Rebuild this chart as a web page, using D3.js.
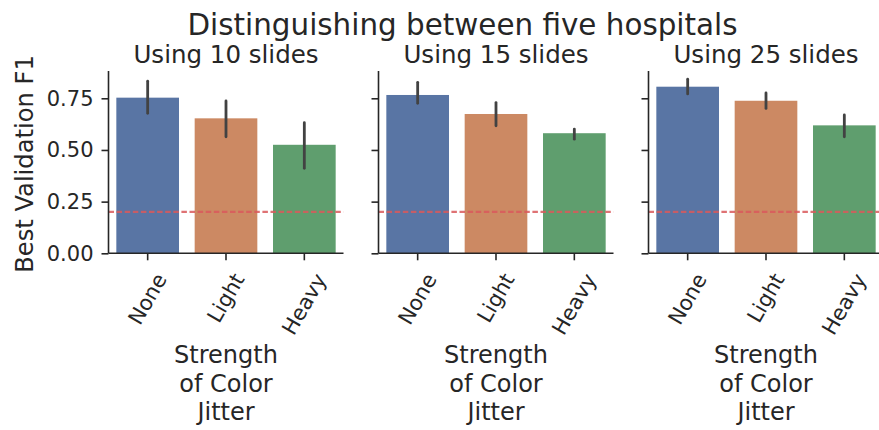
<!DOCTYPE html>
<html>
<head>
<meta charset="utf-8">
<script src="https://cdn.jsdelivr.net/npm/d3@7"></script>
<style>
  html, body { margin: 0; padding: 0; background: #fff; }
  svg { display: block; font-family: "DejaVu Sans", sans-serif; }
</style>
</head>
<body>
<svg id="chart" width="879" height="430"></svg>
<script>
// Mean best validation F1 per colour-jitter strength, with 95% CI bounds
const panels = ["Using 10 slides", "Using 15 slides", "Using 25 slides"];
const jitter = ["None", "Light", "Heavy"];
const meanF1 = [
  [0.753, 0.653, 0.525],
  [0.766, 0.674, 0.581],
  [0.806, 0.738, 0.619]
];
const lowF1 = [
  [0.677, 0.564, 0.411],
  [0.726, 0.617, 0.552],
  [0.771, 0.701, 0.564]
];
const highF1 = [
  [0.833, 0.737, 0.632],
  [0.827, 0.729, 0.601],
  [0.842, 0.776, 0.669]
];
const yTicks = [0.00, 0.25, 0.50, 0.75];
const chanceLevel = 0.2;   // five hospitals -> 1/5
const barColors = ["#5975a4", "#cc8963", "#5f9e6e"];

const svg = d3.select("#chart");
const ink = "#262626";

const panelW = 235;
const plotTop = 71, plotBottom = 253.3;
const lefts = panels.map((_, i) => 108.5 + i * 270);

const y = d3.scaleLinear().domain([0, 0.882]).range([plotBottom, plotTop]);

svg.append("text")
  .attr("x", 462.5).attr("y", 34.5)
  .attr("text-anchor", "middle")
  .attr("font-size", 29.4).attr("fill", ink)
  .text("Distinguishing between five hospitals");

panels.forEach((title, p) => {
  const g = svg.append("g").attr("transform", `translate(${lefts[p]},0)`);
  const x = d3.scaleBand().domain(jitter).range([0, panelW]).paddingInner(0.2).paddingOuter(0.1);

  // bars
  g.selectAll("rect.bar").data(jitter).join("rect")
    .attr("class", "bar")
    .attr("x", d => x(d))
    .attr("width", x.bandwidth())
    .attr("y", (d, i) => y(meanF1[p][i]))
    .attr("height", (d, i) => y(0) - y(meanF1[p][i]))
    .attr("fill", (d, i) => barColors[i]);

  // confidence intervals
  g.selectAll("line.err").data(jitter).join("line")
    .attr("class", "err")
    .attr("x1", d => x(d) + x.bandwidth() / 2)
    .attr("x2", d => x(d) + x.bandwidth() / 2)
    .attr("y1", (d, i) => y(lowF1[p][i]))
    .attr("y2", (d, i) => y(highF1[p][i]))
    .attr("stroke", "#424242").attr("stroke-width", 2.8)
    .attr("stroke-linecap", "round");

  // chance-level reference line
  g.append("line")
    .attr("x1", 0).attr("x2", panelW)
    .attr("y1", y(chanceLevel)).attr("y2", y(chanceLevel))
    .attr("stroke", "#d9595c").attr("stroke-opacity", 0.85)
    .attr("stroke-width", 2.2).attr("stroke-dasharray", "5.5,2.6");

  // y axis
  const yAxis = g.append("g").call(
    d3.axisLeft(y).tickValues(yTicks).tickSize(7).tickPadding(8)
      .tickFormat(p === 0 ? d3.format(".2f") : () => "")
  );
  yAxis.select(".domain").attr("d", `M0,${plotTop}V${plotBottom}`);

  // x axis
  const xAxis = g.append("g").attr("transform", `translate(0,${plotBottom})`)
    .call(d3.axisBottom(x).tickSize(7).tickFormat(""));
  xAxis.select(".domain").attr("d", `M0,0H${panelW}`);

  [yAxis, xAxis].forEach(a => {
    a.selectAll(".domain").attr("stroke", ink).attr("stroke-width", 1.6);
    a.selectAll(".tick line").attr("stroke", ink).attr("stroke-width", 1.6);
    a.selectAll("text").attr("fill", ink).attr("font-size", 21)
      .attr("font-family", "DejaVu Sans");
  });

  // rotated category labels, bounding box hung below the ticks
  const fs = 21, ang = 60 * Math.PI / 180;
  jitter.forEach(cat => {
    const t = g.append("text")
      .attr("font-size", fs).attr("fill", ink)
      .attr("text-anchor", "middle").attr("dominant-baseline", "central")
      .text(cat);
    const w = t.node().getComputedTextLength();
    const h = fs * 1.164;
    const boxH = w * Math.sin(ang) + h * Math.cos(ang);
    const cx = x(cat) + x.bandwidth() / 2;
    const cy = plotBottom + 16 + boxH / 2;
    t.attr("transform", `translate(${cx},${cy}) rotate(-60)`);
  });

  // panel title
  g.append("text")
    .attr("x", panelW / 2).attr("y", 62.7)
    .attr("text-anchor", "middle")
    .attr("font-size", 24.5).attr("fill", ink)
    .text(title);

  // x axis label on three lines
  const xl = g.append("text")
    .attr("text-anchor", "middle")
    .attr("font-size", 24).attr("fill", ink);
  ["Strength", "of Color", "Jitter"].forEach((line, i) => {
    xl.append("tspan").attr("x", panelW / 2).attr("y", 363 + i * 28.6).text(line);
  });
});

svg.append("text")
  .attr("transform", `translate(33,164) rotate(-90)`)
  .attr("text-anchor", "middle")
  .attr("font-size", 24.2).attr("fill", ink)
  .text("Best Validation F1");
</script>
</body>
</html>
